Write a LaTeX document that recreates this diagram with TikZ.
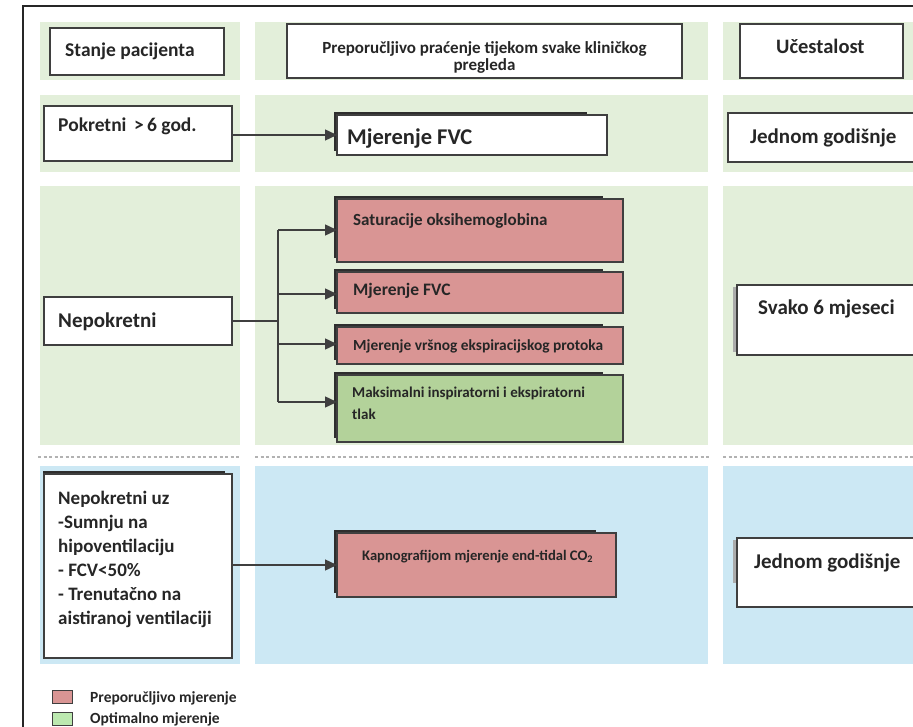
\documentclass[tikz,border=0pt]{standalone}
\usepackage{fontspec}
\setmainfont{Carlito}
\usetikzlibrary{arrows.meta}
\definecolor{panelg}{HTML}{E3EFDA}
\definecolor{panelb}{HTML}{CCE8F4}
\definecolor{redbox}{HTML}{D99594}
\definecolor{greenbox}{HTML}{B3D29A}
\definecolor{edge}{HTML}{3F3F3F}
\definecolor{txt}{HTML}{262626}
\definecolor{stackc}{HTML}{2E2E2E}
\newcommand\fsz[2]{\fontsize{#1}{#2}\selectfont}
% back "stack" plate: x, y, w, h
\newcommand\stk[4]{\fill[stackc] (#1-3,#2-3) rectangle (#1+#3-20,#2+#4-4);}
\begin{document}
\begin{tikzpicture}[x=1pt,y=-1pt,
  box/.style={draw=edge, line width=1.2pt, fill=white, inner sep=0pt, outer sep=0pt, anchor=north west},
  lbl/.style={inner sep=0pt, anchor=base west, text=txt, font=\bfseries},
  arr/.style={draw=edge, line width=1.4pt, -{Triangle[length=12pt,width=11pt]}},
  ln/.style={draw=edge, line width=1.4pt},
  dashln/.style={draw=gray!60, line width=1.5pt, dash pattern=on 3pt off 2.5pt}
]
\useasboundingbox (0,0) rectangle (913,727);
\fill[white] (0,0) rectangle (913,727);

% panels
\foreach \ya/\yb/\c in {22/80/panelg, 95/172/panelg, 186/445/panelg, 466/664/panelb}{
  \fill[\c] (40,\ya) rectangle (240,\yb);
  \fill[\c] (255,\ya) rectangle (708,\yb);
  \fill[\c] (723,\ya) rectangle (913,\yb);
}
% dashed separators
\draw[dashln] (38,457) -- (240,457);
\draw[dashln] (255,457) -- (710,457);
\draw[dashln] (723,457) -- (913,457);

% outer frame
\draw[line width=2pt, black!85] (23,727) -- (23,6) -- (913,6);

% header row
\node[box, minimum width=174pt, minimum height=47pt] (stanje) at (50,28) {};
\node[lbl] (stanjet) at (65,57) {\fsz{19.5}{22}Stanje pacijenta};
\node[box, minimum width=395pt, minimum height=54pt] (hdr) at (287,24) {};
\node[inner sep=0pt, align=center, text=txt, font=\bfseries\fsz{17}{17}] (hdrt) at (484.5,57)
  {Preporučljivo praćenje tijekom svake kliničkog\\pregleda};
\node[box, minimum width=163pt, minimum height=54pt] (uce) at (740,24) {};
\node[lbl] (ucet) at (776,54) {\fsz{20.5}{24}Učestalost};

% row 2
\node[box, minimum width=188pt, minimum height=55pt] (pok) at (44,106) {};
\node[lbl] (pokt) at (58,132) {\fsz{19.5}{22}Pokretni \,>\,6 god.};
\stk{337}{115}{270}{40}
\node[box, minimum width=270pt, minimum height=40pt] (fvc1) at (337,115) {};
\node[lbl] (fvc1t) at (347,145) {\fsz{22.5}{26}Mjerenje FVC};
\node[box, minimum width=200pt, minimum height=49pt] (jg1) at (728,113) {};
\node[lbl] (jg1t) at (750,143.5) {\fsz{21}{24}Jednom godišnje};
\draw[arr] (pok.east |- fvc1.west) -- (fvc1.west);

% row 3
\node[box, minimum width=188pt, minimum height=48pt] (nep) at (44,297) {};
\node[lbl] (nept) at (58,327) {\fsz{21}{24}Nepokretni};
\stk{337}{199}{286}{63}
\node[box, fill=redbox, minimum width=286pt, minimum height=63pt] (sat) at (337,199) {};
\node[lbl] (satt) at (353,225.5) {\fsz{17}{20}Saturacije oksihemoglobina};
\stk{337}{272}{286}{41}
\node[box, fill=redbox, minimum width=286pt, minimum height=41pt] (fvc2) at (337,272) {};
\node[lbl] (fvc2t) at (353,296) {\fsz{17.5}{20}Mjerenje FVC};
\stk{337}{327}{286}{37}
\node[box, fill=redbox, minimum width=286pt, minimum height=37pt] (vrs) at (337,327) {};
\node[lbl] (vrst) at (353,350) {\fsz{15.4}{18}Mjerenje vršnog ekspiracijskog protoka};
\stk{337}{375}{286}{67}
\node[box, fill=greenbox, minimum width=286pt, minimum height=67pt] (mak) at (337,375) {};
\node[inner sep=0pt, anchor=north west, align=left, text=txt, font=\bfseries\fsz{15}{22}] (makt) at (352,387)
  {Maksimalni inspiratorni i ekspiratorni\\tlak};
\fill[gray!65] (733,287) rectangle (740,352);
\node[box, minimum width=200pt, minimum height=70pt] (svako) at (737,285) {};
\node[lbl] (svakot) at (758,315) {\fsz{21}{24}Svako 6 mjeseci};

\coordinate (b1) at (278,230);
\coordinate (b2) at (278,294);
\coordinate (b3) at (278,344);
\coordinate (b4) at (278,402);
\draw[ln] (nep.east) -- (nep.east -| b1);
\draw[ln] (b1) -- (b4);
\draw[arr] (b1) -- (b1 -| sat.west);
\draw[arr] (b2) -- (b2 -| fvc2.west);
\draw[arr] (b3) -- (b3 -| vrs.west);
\draw[arr] (b4) -- (b4 -| mak.west);

% row 4
\fill[stackc] (43,471) rectangle (225,476);
\node[box, minimum width=188pt, minimum height=184pt] (nuz) at (44,474) {};
\node[inner sep=0pt, anchor=north west, align=left, text=txt, font=\bfseries\fsz{19}{24}] (nuzt) at (58,491)
  {Nepokretni uz\\-Sumnju na\\hipoventilaciju\\- FCV<50\%\\- Trenutačno na\\aistiranoj ventilaciji};
\stk{337}{533}{279}{64}
\node[box, fill=redbox, minimum width=279pt, minimum height=64pt] (kap) at (337,533) {};
\node[lbl] (kapt) at (362,560) {\fsz{14.6}{18}Kapnografijom mjerenje end-tidal CO\textsubscript{2}};
\fill[gray!65] (733,540) rectangle (740,583);
\node[box, minimum width=200pt, minimum height=69pt] (jg2) at (737,538) {};
\node[lbl] (jg2t) at (754,568) {\fsz{21}{24}Jednom godišnje};
\draw[arr] (nuz.east |- kap.west) -- (kap.west);

% legend
\node[draw=edge, line width=1pt, fill=redbox, minimum width=20pt, minimum height=13pt, inner sep=0pt, anchor=north west] (legr) at (52,690) {};
\node[draw=edge, line width=1pt, fill=greenbox!80!green!60!white, minimum width=20pt, minimum height=13pt, inner sep=0pt, anchor=north west] (legg) at (52,712) {};
\node[lbl] (legrt) at (90,702) {\fsz{15.5}{16}Preporučljivo mjerenje};
\node[lbl] (leggt) at (90,723.5) {\fsz{15.5}{16}Optimalno mjerenje};
\end{tikzpicture}
\end{document}
